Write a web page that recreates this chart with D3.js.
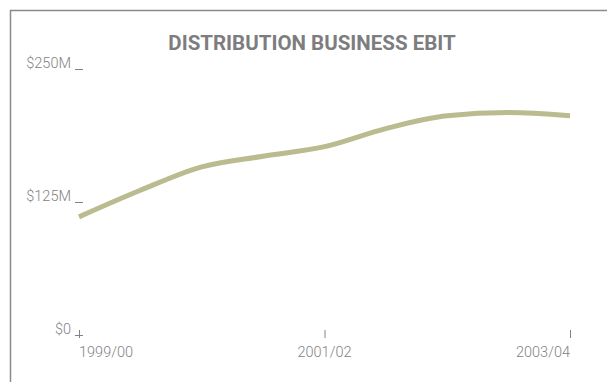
<!DOCTYPE html>
<html><head><meta charset="utf-8">
<script src="https://cdn.jsdelivr.net/npm/d3@7"></script>
<style>
html,body{margin:0;padding:0;background:#fff;}
svg{display:block;}
</style></head>
<body>
<svg id="chart" width="607" height="382"></svg>
<script>
const title = "DISTRIBUTION BUSINESS EBIT";
const periods = [0, 0.5, 1, 1.5, 2, 2.5, 3, 3.5, 4];
const ebit = [111, 136, 158, 168, 177, 194, 206, 209, 206];
const xTickPos = [0, 2, 4];
const xTickLabels = ["1999/00", "2001/02", "2003/04"];
const yTicks = [0, 125, 250];
const yTickLabels = ["$0", "$125M", "$250M"];

const svg = d3.select("#chart");
const x = d3.scaleLinear().domain([0, 4]).range([79, 570]);
const y = d3.scaleLinear().domain([0, 250]).range([335, 69]);
const gray = "#828285";

// frame
svg.append("line").attr("x1", 10).attr("x2", 607).attr("y1", 10.5).attr("y2", 10.5)
  .attr("stroke", "#8a8a8a").attr("stroke-width", 1.5);
svg.append("line").attr("x1", 10.5).attr("x2", 10.5).attr("y1", 10).attr("y2", 382)
  .attr("stroke", "#8a8a8a").attr("stroke-width", 1.5);

svg.append("text").attr("x", 312).attr("y", 50).attr("text-anchor", "middle")
  .attr("font-family", "Roboto").attr("font-weight", "bold").attr("font-size", 20.5)
  .attr("fill", "#7d7d80").text(title);

// y ticks
const yg = svg.append("g");
yTicks.forEach((v, i) => {
  yg.append("text").attr("x", 71).attr("y", y(v) - 1).attr("text-anchor", "end")
    .attr("font-family", "Roboto").attr("font-weight", 300).attr("font-size", 14.5)
    .attr("fill", gray).text(yTickLabels[i]);
  yg.append("line").attr("x1", 75).attr("x2", 83).attr("y1", y(v) + 0.5).attr("y2", y(v) + 0.5)
    .attr("stroke", gray).attr("stroke-width", 1);
});
// x ticks
xTickPos.forEach((p, i) => {
  svg.append("line").attr("x1", x(p) + 0.5).attr("x2", x(p) + 0.5)
    .attr("y1", y(0) - 5).attr("y2", y(0) + 3).attr("stroke", gray).attr("stroke-width", 1);
  const anchor = i === 0 ? "start" : (i === xTickPos.length - 1 ? "end" : "middle");
  svg.append("text").attr("x", x(p)).attr("y", 357).attr("text-anchor", anchor)
    .attr("font-family", "Roboto").attr("font-weight", 300).attr("font-size", 14.5)
    .attr("fill", gray).text(xTickLabels[i]);
});

const line = d3.line().x((d, i) => x(periods[i])).y(d => y(d)).curve(d3.curveMonotoneX);
svg.append("path").datum(ebit).attr("d", line).attr("fill", "none")
  .attr("stroke", "#babb8e").attr("stroke-width", 5);
</script>
</body></html>
